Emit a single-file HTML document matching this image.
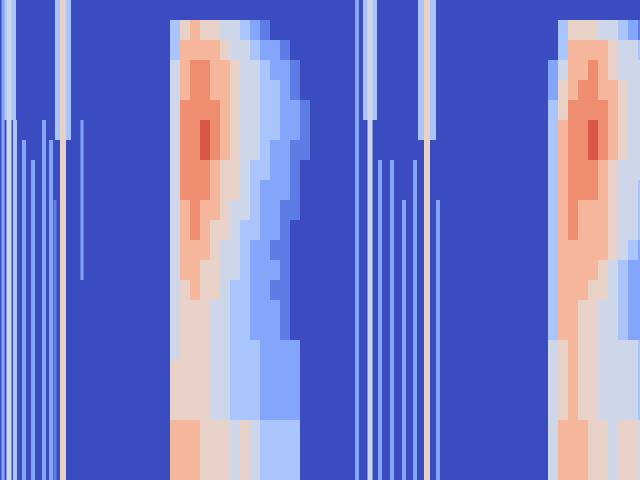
<!DOCTYPE html>
<html><head><meta charset="utf-8">
<style>html,body{margin:0;padding:0;background:#3b4cc0;width:640px;height:480px;overflow:hidden}svg{display:block}</style>
</head><body>
<svg id="chart" width="640" height="480" viewBox="0 0 640 480" xmlns="http://www.w3.org/2000/svg">
<rect x="0" y="0" width="640" height="480" fill="#3b4cc0"/>
</svg>
<script>
// Left blob: 14 time columns (t = 170..310), 24 frequency rows
const leftBlob = [
"00000000000000","35655443210000","36666544322100","46776654432210",
"46776654433210","47777654433221","47787654433221","47787654432211",
"47776554332210","47776554322210","46766544322110","46765543322100",
"46665443221100","46655443222100","45655433221100","45554433222100",
"45554433222100","45554433322220","55554433322220","55554433322220",
"55554433322220","66655545433330","66655545433330","66655545433330"];
// Right blob: 10 time columns (t = 548..648)
const rightBlob = [
"0000000000","0355544321","0366665443","2466765444","2567766544",
"3577776544","3677876544","3677876544","3677765444","3677765443",
"3676665443","3676665443","3666665432","3666654322","3666554322",
"3665544322","3665544322","4565544443","4565544443","4565544443",
"4565544443","4666554554","4666554554","4666554554"];
const leftBlobStart = 170;
const rightBlobStart = 548;
// Narrow harmonic lines: time, width, level, first row, end row
const lineT  = [9, 63, 370, 427, 3, 15, 24, 33, 44, 51, 55, 82, 357, 380, 392, 404, 415, 438, 9, 63, 370, 427];
const lineW  = [14, 16, 14, 18, 3, 4, 4, 4, 4, 4, 3, 3, 4, 4, 4, 4, 4, 4, 5, 6, 5, 6];
const lineV  = [3, 3, 3, 3, 2, 3, 2, 2, 2, 2, 1, 2, 2, 2, 2, 2, 2, 2, 4, 5, 4, 5];
const lineR0 = [0, 0, 0, 0, 0, 6, 7, 8, 6, 7, 10, 6, 0, 8, 8, 10, 8, 10, 0, 0, 0, 0];
const lineR1 = [6, 7, 6, 7, 24, 24, 24, 24, 24, 24, 24, 14, 24, 24, 24, 24, 24, 24, 24, 24, 24, 24];
const nRows = 24, vMax = 9;

const W = 640, H = 480;
const xScale = t => t * (W / 640);
const yScale = r => r * (H / nRows);
const stops = [[59,76,192],[98,130,234],[141,176,254],[184,208,249],[221,221,221],[245,196,173],[244,154,123],[222,96,77],[180,4,38]];
function color(v){
  const f = Math.max(0, Math.min(1, v / vMax)) * (stops.length - 1);
  const i = Math.min(stops.length - 2, Math.floor(f)), u = f - i;
  const c = stops[i].map((a, k) => Math.round(a + (stops[i+1][k] - a) * u));
  return `rgb(${c[0]},${c[1]},${c[2]})`;
}
const svg = document.getElementById('chart');
const NS = 'http://www.w3.org/2000/svg';
function rect(x, y, w, h, v, name){
  const r = document.createElementNS(NS, 'rect');
  r.setAttribute('x', x); r.setAttribute('y', y);
  r.setAttribute('width', w); r.setAttribute('height', h);
  r.setAttribute('fill', color(v));
  
  
  svg.appendChild(r);
}
function drawLines(){
  for (let i = 0; i < lineT.length; i++){
    if (lineV[i] <= 0) continue;
    const x = xScale(lineT[i]) - lineW[i] / 2;
    const y0 = yScale(lineR0[i]), y1 = yScale(lineR1[i]);
    const r = document.createElementNS(NS, 'rect');
    r.setAttribute('x', x); r.setAttribute('y', y0);
    r.setAttribute('width', lineW[i]); r.setAttribute('height', y1 - y0);
    r.setAttribute('fill', color(lineV[i]));
    
    
    svg.appendChild(r);
  }
}
drawLines();
function drawBlob(rows, start, name){
  rows.forEach((row, ri) => {
    for (let c = 0; c < row.length; c++){
      const v = +row[c];
      if (v === 0) continue;
      rect(xScale(start + c * 10), yScale(ri), xScale(10), yScale(1), v, name);
    }
  });
}
drawBlob(leftBlob, leftBlobStart, 'heatmap-cell-left');
drawBlob(rightBlob, rightBlobStart, 'heatmap-cell-right');
</script>
</body></html>
